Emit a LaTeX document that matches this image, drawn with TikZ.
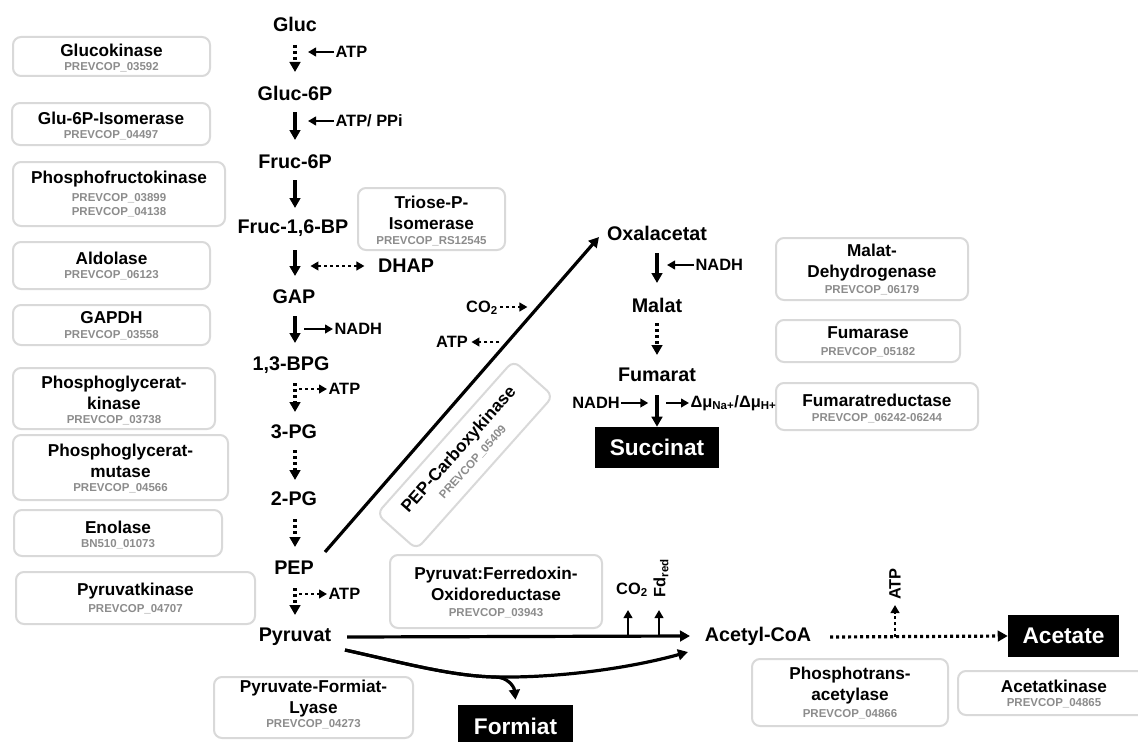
\documentclass[tikz,border=0pt]{standalone}
\usepackage{fontspec}
\setmainfont{Liberation Sans}
\usetikzlibrary{arrows.meta,fit,calc}
\definecolor{boxgray}{RGB}{217,217,217}
\definecolor{idgray}{RGB}{140,140,140}
\tikzset{
 met/.style={font=\fontsize{14.8}{17}\selectfont\bfseries, inner sep=1pt},
 sm/.style={font=\fontsize{12.3}{14}\selectfont\bfseries, inner sep=1pt},
 et/.style={font=\fontsize{12.9}{15.75}\selectfont\bfseries, align=center, inner sep=0pt},
 eid/.style={font=\fontsize{8.6}{10}\selectfont\bfseries, text=idgray, inner sep=0pt},
 enz/.style={draw=boxgray, line width=1.5pt, rounded corners=6pt, inner sep=0pt},
 prod/.style={fill=black, text=white, font=\fontsize{17}{20}\selectfont\bfseries, inner sep=0pt},
 arr/.style={line width=2.4pt, -{Triangle[length=7.5pt,width=8pt]}},
 sarr/.style={line width=2pt, -{Triangle[length=6pt,width=6.5pt]}},
 dots/.style={dash pattern=on 2.25pt off 2.25pt},
}
\begin{document}
\begin{tikzpicture}[x=0.75pt,y=-0.75pt]
\useasboundingbox (0,0) rectangle (1138,742);
\fill[white] (0,0) rectangle (1138,742);

% ---------- left enzyme boxes ----------
\node[enz, fit={(13,37) (210,76)}] (bgk) {};
\node[et] (tgk) at (111.5,50) {Glucokinase};
\node[eid] (igk) at (111.5,67) {PREVCOP\_03592};

\node[enz, fit={(12,103) (210,145)}] (bgpi) {};
\node[et] (tgpi) at (111,118) {Glu-6P-Isomerase};
\node[eid] (igpi) at (111,135) {PREVCOP\_04497};

\node[enz, fit={(13,162) (225,226)}] (bpfk) {};
\node[et] (tpfk) at (119,179) {Phosphofructokinase};
\node[eid] (ipfk1) at (119,198) {PREVCOP\_03899};
\node[eid] (ipfk2) at (119,212) {PREVCOP\_04138};

\node[enz, fit={(13,242) (210,289)}] (bald) {};
\node[et] (tald) at (111.5,258) {Aldolase};
\node[eid] (iald) at (111.5,275) {PREVCOP\_06123};

\node[enz, fit={(13,305) (210,345)}] (bgapdh) {};
\node[et] (tgapdh) at (111.5,318) {GAPDH};
\node[eid] (igapdh) at (111.5,335) {PREVCOP\_03558};

\node[enz, fit={(13,368) (215,429)}] (bpgk) {};
\node[et] (tpgk) at (114,392.5) {Phosphoglycerat-\\kinase};
\node[eid] (ipgk) at (114,420) {PREVCOP\_03738};

\node[enz, fit={(13,435) (228,500)}] (bpgm) {};
\node[et] (tpgm) at (120.5,460.5) {Phosphoglycerat-\\mutase};
\node[eid] (ipgm) at (120.5,488) {PREVCOP\_04566};

\node[enz, fit={(14,510) (222,556)}] (beno) {};
\node[et] (teno) at (118,527) {Enolase};
\node[eid] (ieno) at (118,544) {BN510\_01073};

\node[enz, fit={(16,572) (255,624)}] (bpk) {};
\node[et] (tpk) at (135.5,591) {Pyruvatkinase};
\node[eid] (ipk) at (135.5,609) {PREVCOP\_04707};

\node[enz, fit={(214,677) (413,738)}] (bpfl) {};
\node[et] (tpfl) at (313.5,698.5) {Pyruvate-Formiat-\\Lyase};
\node[eid] (ipfl) at (313.5,724) {PREVCOP\_04273};

% ---------- middle boxes ----------
\node[enz, fit={(358,188) (505,250)}] (btpi) {};
\node[et] (ttpi) at (431.5,213) {Triose-P-\\Isomerase};
\node[eid] (itpi) at (431.5,241) {PREVCOP\_RS12545};

\node[enz, fit={(390,555) (602,628)}] (bpfor) {};
\node[et] (tpfor) at (496,584) {Pyruvat:Ferredoxin-\\Oxidoreductase};
\node[eid] (ipfor) at (496,613) {PREVCOP\_03943};

\node[enz, rotate=48.3, minimum width=154pt, minimum height=40pt, align=center] (bpck) at (465,455)
 {{\fontsize{12.9}{14}\selectfont\bfseries PEP-Carboxykinase}\\[1pt]{\fontsize{8.6}{10}\selectfont\bfseries\color{idgray}PREVCOP\_05409}};

% ---------- right boxes ----------
\node[enz, fit={(776,238) (968,300)}] (bmdh) {};
\node[et] (tmdh) at (872,263) {Malat-\\Dehydrogenase};
\node[eid] (imdh) at (872,290) {PREVCOP\_06179};

\node[enz, fit={(776,320) (960,362)}] (bfum) {};
\node[et] (tfum) at (868,333) {Fumarase};
\node[eid] (ifum) at (868,352) {PREVCOP\_05182};

\node[enz, fit={(776,383) (978,430)}] (bfrd) {};
\node[et] (tfrd) at (877,400) {Fumaratreductase};
\node[eid] (ifrd) at (877,418) {PREVCOP\_06242-06244};

\node[enz, fit={(752,659) (948,726)}] (bpta) {};
\node[et] (tpta) at (850,685.5) {Phosphotrans-\\acetylase};
\node[eid] (ipta) at (850,714) {PREVCOP\_04866};

\node[enz, fit={(958,671) (1150,715)}] (back) {};
\node[et] (tack) at (1054,686) {Acetatkinase};
\node[eid] (iack) at (1054,703) {PREVCOP\_04865};

% ---------- metabolites ----------
\node[met] (gluc) at (295,24) {Gluc};
\node[met] (g6p) at (295,93) {Gluc-6P};
\node[met] (f6p) at (295,162) {Fruc-6P};
\node[met] (fbp) at (293,228) {Fruc-1,6-BP};
\node[met] (gap) at (294,297) {GAP};
\node[met] (bpg) at (291,365) {1,3-BPG};
\node[met] (pg3) at (294,432) {3-PG};
\node[met] (pg2) at (294,499) {2-PG};
\node[met] (pep) at (294,568) {PEP};
\node[met] (pyr) at (295,637) {Pyruvat};
\node[met] (dhap) at (406,266) {DHAP};
\node[met] (oxa) at (657,233) {Oxalacetat};
\node[met] (mal) at (657,305) {Malat};
\node[met] (fum) at (657,375) {Fumarat};
\node[met] (acoa) at (758,636) {Acetyl-CoA};

\node[prod, minimum width=93pt, minimum height=30.75pt] (succ) at (657,447.5) {Succinat};
\node[prod, minimum width=86.25pt, minimum height=31.5pt] (form) at (515.5,726) {Formiat};
\node[prod, minimum width=83.25pt, minimum height=31.5pt] (acet) at (1063.5,636) {Acetate};

% ---------- glycolysis arrows ----------
\draw[arr, dots] ($(gluc)+(0,21)$) -- ($(g6p)+(0,-21)$);
\draw[arr] ($(g6p)+(0,19)$) -- ($(f6p)+(0,-22)$);
\draw[arr] ($(f6p)+(0,18)$) -- ($(fbp)+(2,-20)$);
\draw[arr] ($(fbp)+(2,22)$) -- ($(gap)+(1,-21)$);
\draw[arr] ($(gap)+(1,19)$) -- ($(bpg)+(4,-22)$);
\draw[arr, dots] ($(bpg)+(4,18)$) -- ($(pg3)+(1,-20)$);
\draw[arr, dots] ($(pg3)+(1,18)$) -- ($(pg2)+(1,-19)$);
\draw[arr, dots] ($(pg2)+(1,20)$) -- ($(pep)+(1,-21)$);
\draw[arr, dots] ($(pep)+(1,20)$) -- ($(pyr)+(0,-22)$);

% side arrows glycolysis
\node[sm, anchor=west] (atp1) at (334,52) {ATP};
\draw[sarr] (atp1.west) -- ++(-26,0) coordinate (atp1e);
\node[sm, anchor=west] (atp2) at (334,121) {ATP/ PPi};
\draw[sarr] (atp2.west) -- ++(-26,0) coordinate (atp2e);
\draw[sarr, dots, {Triangle[length=6pt,width=6.5pt]}-{Triangle[length=6pt,width=6.5pt]}] ($(dhap.west)+(-12,0)$) -- ++(-54,0) coordinate (dhape);
\node[sm, anchor=west] (nadh1) at (333,329) {NADH};
\draw[sarr] ($(nadh1.west)+(-29,0)$) coordinate (nadh1s) -- (nadh1.west);
\node[sm, anchor=west] (atp3) at (327,389) {ATP};
\draw[sarr, dots] ($(atp3.west)+(-28,0)$) coordinate (atp3s) -- (atp3.west);
\node[sm, anchor=west] (atp4) at (327,594) {ATP};
\draw[sarr, dots] ($(atp4.west)+(-28,0)$) coordinate (atp4s) -- (atp4.west);

% ---------- PEP carboxykinase ----------
\draw[arr] ($(pep)+(31,-16)$) -- ($(oxa)+(-58,4)$);
\node[sm] (co2a) at (482,308) {CO\textsubscript{2}};
\draw[sarr, dots] ($(co2a.east)+(1,-1)$) -- ++(27,0) coordinate (co2ae);
\node[sm] (atp5) at (452,342) {ATP};
\draw[sarr, dots] ($(atp5.east)+(30,0)$) coordinate (atp5s) -- ($(atp5.east)+(2,0)$);

% ---------- reductive branch ----------
\draw[arr] ($(oxa)+(0,20)$) -- ($(mal)+(0,-22)$);
\node[sm, anchor=west] (nadh2) at (694,265) {NADH};
\draw[sarr] (nadh2.west) -- ++(-27,0) coordinate (nadh2e);
\draw[arr, dots] ($(mal)+(0,18)$) -- ($(fum)+(0,-20)$);
\draw[arr] ($(fum)+(0,20)$) -- (succ.north);
\node[sm] (nadh3) at (596,403) {NADH};
\draw[sarr] (nadh3.east) -- ++(27,0) coordinate (nadh3e);
\node[sm, anchor=west] (dmu) at (689,403) {Δμ\textsubscript{Na+}/Δμ\textsubscript{H+}};
\draw[sarr] ($(dmu.west)+(-23,0)$) coordinate (dmus) -- (dmu.west);

% ---------- pyruvate to acetyl-CoA ----------
\draw[arr] ($(pyr)+(52,0)$) coordinate (pyrE) -- ($(acoa)+(-68,0)$);
\coordinate (c2base) at (628,636);
\coordinate (fdbase) at (659,636);
\draw[sarr] (c2base) -- ++(0,-26);
\draw[sarr] (fdbase) -- ++(0,-26);
\node[sm] (co2b) at (632,590) {CO\textsubscript{2}};
\node[sm, rotate=90] (fdred) at (661,578) {Fd\textsubscript{red}};

\coordinate (split) at (495,677);
\draw[arr] ($(pyr)+(50,13)$) .. controls (400,662) and (450,676) .. (split)
  .. controls (560,678) and (630,668) .. ($(acoa)+(-70,16)$);
\draw[arr] ($(pyr)+(50,13)$) .. controls (400,662) and (450,676) .. (split)
  .. controls (507,677) and (514,686) .. ($(form.north)+(0,-5)$);

% ---------- acetate ----------
\draw[arr, dots] ($(acoa)+(72,1)$) -- (acet.west);
\coordinate (atpbase) at (895,637);
\draw[sarr, dots] (atpbase) -- ++(0,-32);
\node[sm, rotate=90] (atp6) at (895,584) {ATP};
\end{tikzpicture}
\end{document}
